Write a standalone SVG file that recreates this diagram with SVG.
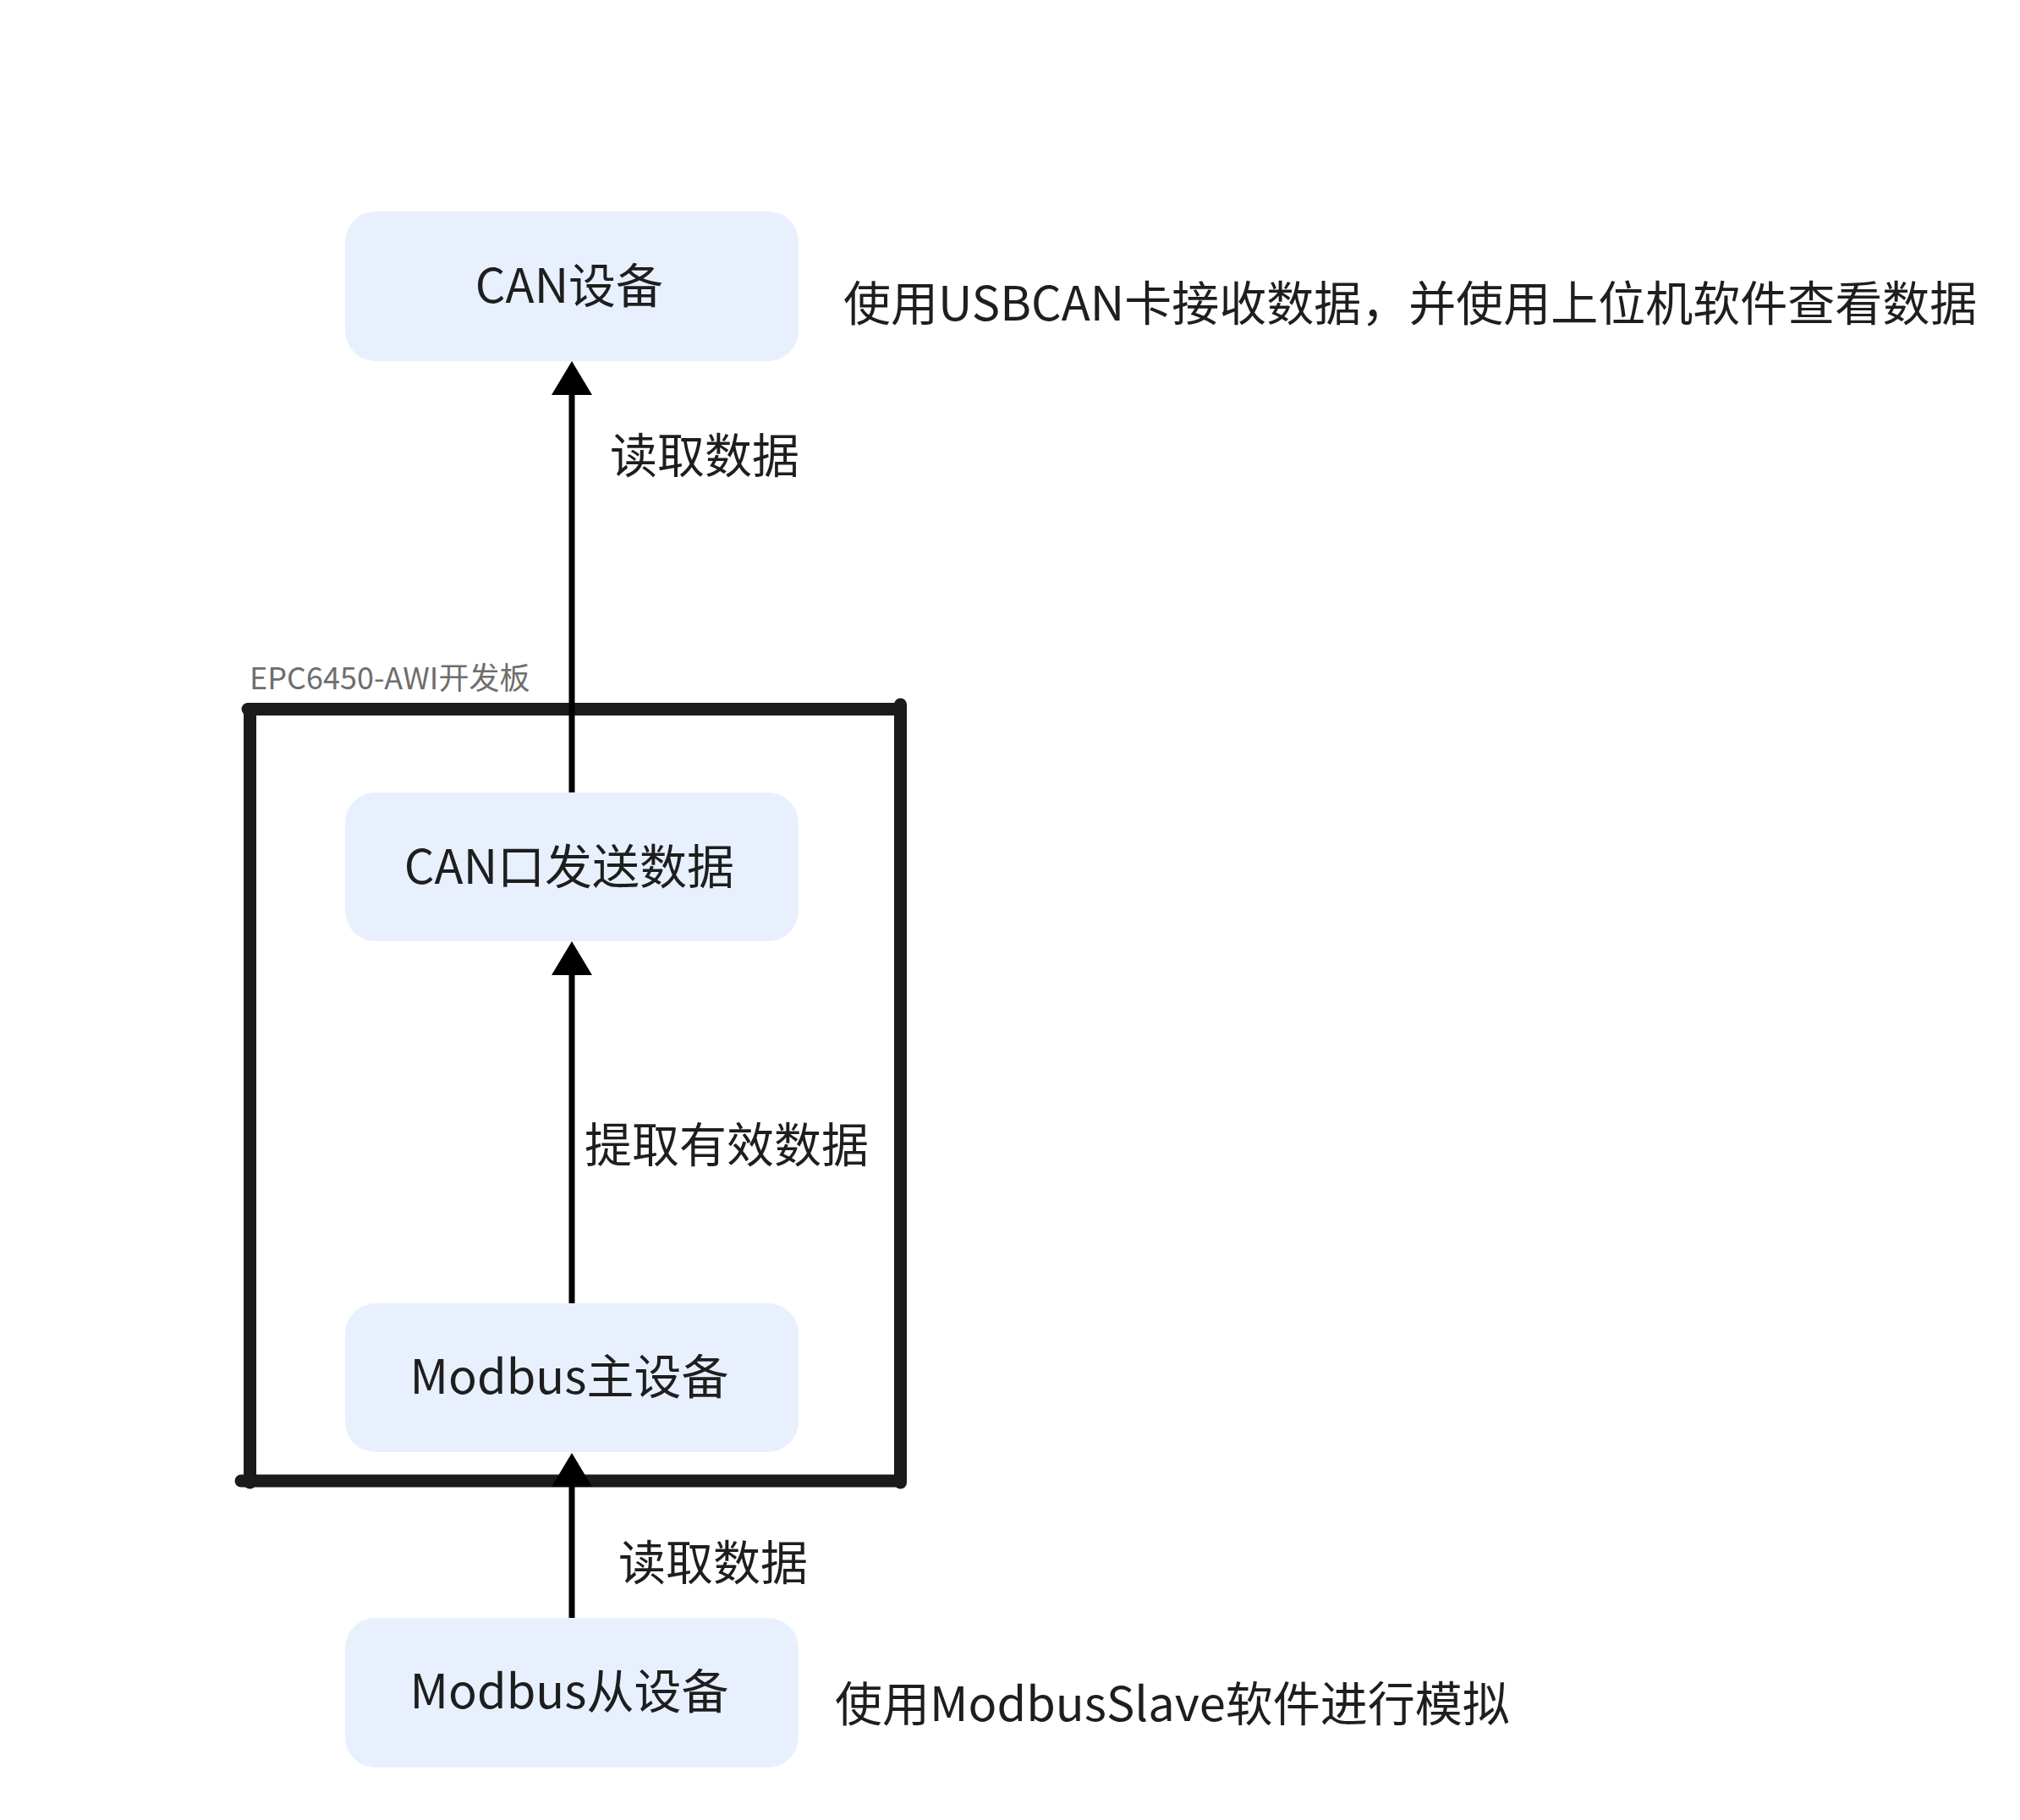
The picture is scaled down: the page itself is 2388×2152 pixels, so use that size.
<svg xmlns="http://www.w3.org/2000/svg" width="2388" height="2152" viewBox="0 0 2388 2152">
  <style>
    .node rect { fill: #E8F0FE; }
    .node text, .lbl { font-family: "Noto Sans CJK SC", "Noto Sans", "Liberation Sans", sans-serif; font-size: 56px; fill: #1E1E1E; }
    .node text { text-anchor: middle; }
    .frame { stroke: #1B1B1B; stroke-width: 15; stroke-linecap: round; fill: none; }
    .edge { stroke: #000; stroke-width: 7; fill: none; }
    .cap { font-family: "Noto Sans CJK SC", "Noto Sans", "Liberation Sans", sans-serif; font-size: 36px; fill: #6E6E6E; }
  </style>
  <defs>
    <marker id="arrow" markerUnits="userSpaceOnUse" markerWidth="44" markerHeight="48" refX="0" refY="24" orient="auto" viewBox="0 0 44 48">
      <path d="M0,0 L40,24 L0,48 Z" fill="#000"/>
    </marker>
  </defs>
  <rect width="2388" height="2152" fill="#FFFFFF"/>

  <g id="board-frame">
    <text class="cap" x="295" y="815">EPC6450-AWI开发板</text>
    <line class="frame" x1="293" y1="838.5" x2="1064" y2="838.5"/>
    <line class="frame" x1="295.5" y1="840" x2="295.5" y2="1753"/>
    <line class="frame" x1="1064.5" y1="833" x2="1064.5" y2="1753"/>
    <line class="frame" x1="285" y1="1751" x2="1060" y2="1751"/>
  </g>

  <g id="connectors">
    <line class="edge" x1="676" y1="937" x2="676" y2="467" marker-end="url(#arrow)"/>
    <line class="edge" x1="676" y1="1541" x2="676" y2="1153" marker-end="url(#arrow)"/>
    <line class="edge" x1="676" y1="1913" x2="676" y2="1758" marker-end="url(#arrow)"/>
    <text class="lbl" x="721" y="559">读取数据</text>
    <text class="lbl" x="691" y="1374">提取有效数据</text>
    <text class="lbl" x="731" y="1868">读取数据</text>
  </g>

  <g id="node-can-device" class="node">
    <rect x="408" y="250" width="536" height="177" rx="36" ry="36"/>
    <text x="673" y="358">CAN设备</text>
  </g>
  <g id="node-can-send" class="node">
    <rect x="408" y="937" width="536" height="176" rx="36" ry="36"/>
    <text x="673" y="1045">CAN口发送数据</text>
  </g>
  <g id="node-modbus-master" class="node">
    <rect x="408" y="1541" width="536" height="176" rx="36" ry="36"/>
    <text x="673" y="1648">Modbus主设备</text>
  </g>
  <g id="node-modbus-slave" class="node">
    <rect x="408" y="1913" width="536" height="177" rx="36" ry="36"/>
    <text x="673" y="2020">Modbus从设备</text>
  </g>

  <g id="notes">
    <text class="lbl" x="997" y="379">使用USBCAN卡接收数据，并使用上位机软件查看数据</text>
    <text class="lbl" x="987" y="2035">使用ModbusSlave软件进行模拟</text>
  </g>
</svg>
